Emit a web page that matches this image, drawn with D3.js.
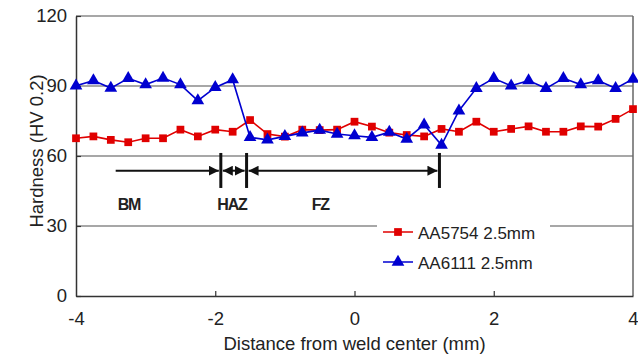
<!DOCTYPE html>
<html>
<head>
<meta charset="utf-8">
<script src="https://cdn.jsdelivr.net/npm/d3@7"></script>
<style>
  body { margin: 0; background: #fff; }
  text { font-family: "Liberation Sans", Arial, sans-serif; fill: #222; }
</style>
</head>
<body>
<div id="root"></div>
<script>
// distance from weld center (mm), every 0.25 mm
const distance = [-4, -3.75, -3.5, -3.25, -3, -2.75, -2.5, -2.25, -2, -1.75, -1.5, -1.25, -1, -0.75, -0.5, -0.25,
  0, 0.25, 0.5, 0.75, 1, 1.25, 1.5, 1.75, 2, 2.25, 2.5, 2.75, 3, 3.25, 3.5, 3.75, 4];
const aa5754 = [67.6, 68.4, 66.9, 65.9, 67.6, 67.6, 71.3, 68.4, 71.3, 70.4, 75.4, 69.4, 68.3, 71.3, 71.1, 71.3,
  74.7, 72.6, 70.0, 69.0, 68.4, 71.6, 70.4, 74.7, 70.4, 71.6, 72.7, 70.4, 70.4, 72.7, 72.6, 75.9, 80.1];
const aa6111 = [90.1, 92.3, 89.1, 93.3, 90.6, 93.4, 90.6, 83.7, 89.4, 92.7, 68.0, 66.9, 68.4, 69.9, 71.1, 69.4,
  68.7, 68.0, 70.2, 67.3, 73.4, 64.7, 79.4, 89.0, 93.3, 90.1, 92.3, 89.0, 93.3, 90.6, 92.3, 89.0, 93.0];
const seriesNames = ["AA5754 2.5mm", "AA6111 2.5mm"];
const xTicks = [-4, -2, 0, 2, 4];
const yTicks = [0, 30, 60, 90, 120];
// weld zone boundaries (mm) and zone labels
const zoneEdges = [-1.92, -1.55, 1.22];
const bmStart = -3.43;
const zoneLabels = [
  { text: "BM", x: -3.24 },
  { text: "HAZ", x: -1.76 },
  { text: "FZ", x: -0.49 },
];

const width = 638;
const height = 363;
const margin = { top: 16, right: 5, bottom: 67, left: 76 };

const x = d3.scaleLinear([-4, 4], [margin.left, width - margin.right]);
const y = d3.scaleLinear([0, 120], [height - margin.bottom, margin.top]);

const svg = d3.select("#root").append("svg")
  .attr("width", width)
  .attr("height", height);

const defs = svg.append("defs");
defs.append("marker")
  .attr("id", "arrow")
  .attr("viewBox", "0 0 10 10")
  .attr("refX", 10)
  .attr("refY", 5)
  .attr("markerWidth", 5)
  .attr("markerHeight", 5)
  .attr("orient", "auto-start-reverse")
  .append("path")
  .attr("d", "M0,0L10,5L0,10z")
  .attr("fill", "#111");

// grid
svg.append("g")
  .selectAll("line")
  .data(yTicks.filter(d => d > 0))
  .join("line")
  .attr("x1", x(-4))
  .attr("x2", x(4))
  .attr("y1", d => y(d))
  .attr("y2", d => y(d))
  .attr("stroke", "#8a8a8a")
  .attr("stroke-width", 1.5);

// right border
svg.append("line")
  .attr("x1", x(4)).attr("x2", x(4))
  .attr("y1", y(120)).attr("y2", y(0))
  .attr("stroke", "#666")
  .attr("stroke-width", 1.5);

// axes
const xAxis = svg.append("g")
  .attr("transform", `translate(0, ${y(0)})`)
  .call(d3.axisBottom(x).tickValues(xTicks).tickSizeInner(-5).tickSizeOuter(0).tickPadding(16).tickFormat(d3.format("d")));
const yAxis = svg.append("g")
  .attr("transform", `translate(${x(-4)}, 0)`)
  .call(d3.axisLeft(y).tickValues(yTicks).tickSizeInner(-5).tickSizeOuter(0).tickPadding(9));

[xAxis, yAxis].forEach(g => {
  g.select(".domain").attr("stroke", "#333").attr("stroke-width", 1.5);
  g.selectAll(".tick line").attr("stroke", "#333").attr("stroke-width", 1.2);
  g.selectAll(".tick text").attr("font-size", 18.5).attr("font-family", "Liberation Sans, Arial, sans-serif").attr("fill", "#222");
});
xAxis.selectAll(".tick text").text(d => d < 0 ? "-" + Math.abs(d) : d);
xAxis.selectAll(".tick line").filter(d => d === -4 || d === 4).remove();

svg.append("text")
  .attr("x", (x(-4) + x(4)) / 2)
  .attr("y", 350)
  .attr("text-anchor", "middle")
  .attr("font-size", 18.5)
  .text("Distance from weld center (mm)");

svg.append("text")
  .attr("transform", `translate(43, ${(y(0) + y(120)) / 2 - 5}) rotate(-90)`)
  .attr("text-anchor", "middle")
  .attr("font-size", 18.5)
  .text("Hardness (HV 0.2)");

// zone annotation
const ann = svg.append("g").attr("stroke", "#111").attr("stroke-width", 2);
ann.selectAll("line.edge")
  .data(zoneEdges)
  .join("line")
  .attr("class", "edge")
  .attr("x1", d => x(d)).attr("x2", d => x(d))
  .attr("y1", y(61.3)).attr("y2", y(46.3))
  .attr("stroke-width", 3);

const spans = [
  { from: bmStart, to: zoneEdges[0], start: false },
  { from: zoneEdges[0], to: zoneEdges[1], start: true },
  { from: zoneEdges[1], to: zoneEdges[2], start: true },
];
ann.selectAll("line.span")
  .data(spans)
  .join("line")
  .attr("class", "span")
  .attr("x1", d => x(d.from) + (d.start ? 2 : 0))
  .attr("x2", d => x(d.to) - 2)
  .attr("y1", y(53.7)).attr("y2", y(53.7))
  .attr("marker-end", "url(#arrow)")
  .attr("marker-start", d => d.start ? "url(#arrow)" : null);

svg.append("g")
  .selectAll("text")
  .data(zoneLabels)
  .join("text")
  .attr("x", d => x(d.x))
  .attr("y", y(36.9))
  .attr("text-anchor", "middle")
  .attr("font-size", 16)
  .attr("font-weight", "bold")
  .attr("letter-spacing", -1.2)
  .text(d => d.text);

// legend background hides the 30 grid line
const legend = svg.append("g").attr("transform", "translate(377, 218)");
legend.append("rect")
  .attr("width", 173).attr("height", 58)
  .attr("fill", "#fff");

const series = [
  { name: seriesNames[0], values: aa5754, color: "#e00000", symbol: d3.symbolSquare, size: 60 },
  { name: seriesNames[1], values: aa6111, color: "#0000d0", symbol: d3.symbolTriangle, size: 70 },
];

const line = d3.line()
  .x(d => x(d[0]))
  .y(d => y(d[1]));

series.forEach((s, i) => {
  const pts = distance.map((d, j) => [d, s.values[j]]);
  const g = svg.append("g");
  g.append("path")
    .datum(pts)
    .attr("fill", "none")
    .attr("stroke", s.color)
    .attr("stroke-width", 1.6)
    .attr("d", line);
  g.selectAll("path.pt")
    .data(pts)
    .join("path")
    .attr("class", "pt")
    .attr("transform", d => `translate(${x(d[0])}, ${y(d[1])})`)
    .attr("d", d3.symbol(s.symbol, s.size))
    .attr("fill", s.color);

  const row = legend.append("g").attr("transform", `translate(0, ${14 + i * 30})`);
  row.append("line")
    .attr("x1", 6).attr("x2", 36)
    .attr("stroke", s.color)
    .attr("stroke-width", 1.5);
  row.append("path")
    .attr("transform", "translate(21, 0)")
    .attr("d", d3.symbol(s.symbol, s.size))
    .attr("fill", s.color);
  row.append("text")
    .attr("x", 41)
    .attr("y", 7)
    .attr("font-size", 17)
    .text(s.name);
});
</script>
</body>
</html>
